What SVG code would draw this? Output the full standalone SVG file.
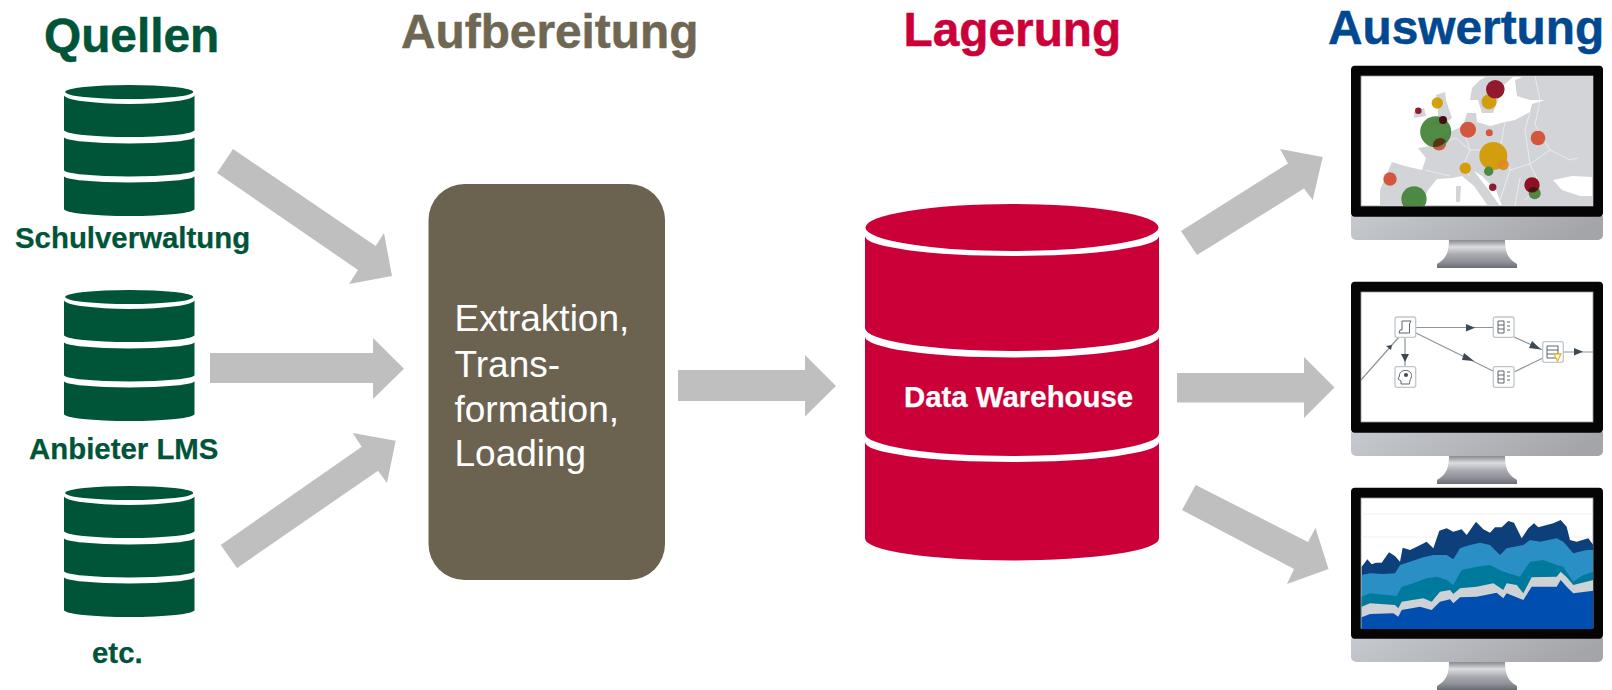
<svg xmlns="http://www.w3.org/2000/svg" width="1612" height="690" viewBox="0 0 1612 690">
<style>
text{font-family:"Liberation Sans",Arial,sans-serif}
.h{font-size:47.8px;font-weight:bold;stroke-width:.5}
.s{font-size:29.4px;font-weight:bold;fill:#005438;stroke:#005438;stroke-width:.25}
.t{font-size:37px;fill:#fff}
.arrow{fill:#bfbfbf}
.fl{stroke:#8e9599;stroke-width:1.2;fill:none}
.ah{fill:#3d4a52}
.nd{fill:#fff;stroke:#c2c6c9;stroke-width:1.3}
.ic{fill:none;stroke:#5d666c;stroke-width:1}
.r{fill:#d4503a}.k{fill:#8f1024}.y{fill:#d29c05}.g{fill:#47863c}
</style>
<defs>
<linearGradient id="chin" x1="0" x2="1" y1="0" y2="0.15"><stop offset="0" stop-color="#c6c9ce"/><stop offset="1" stop-color="#a3a5a9"/></linearGradient>
<linearGradient id="stand" x1="0" x2="0" y1="0" y2="1"><stop offset="0" stop-color="#6f7178"/><stop offset=".3" stop-color="#dcdde0"/><stop offset=".55" stop-color="#a9abb0"/><stop offset=".8" stop-color="#8e9097"/><stop offset="1" stop-color="#6a6c73"/></linearGradient>
<g id="monitor">
<path d="M1449,238 H1505 C1505,252 1507,258 1517,264 V268 H1437 V264 C1447,258 1449,252 1449,238Z" fill="url(#stand)"/>
<path d="M1351,216 H1603 V235 a5,5 0 0 1 -5,5 H1356 a5,5 0 0 1 -5,-5Z" fill="url(#chin)"/>
<rect x="1351" y="65.7" width="252" height="151" rx="4" fill="#050505"/>
<rect x="1361" y="76" width="232" height="130" fill="#fff" stroke="#9a9a9a" stroke-width=".8"/>
</g>
<g id="smallcyl" fill="#005438">
<ellipse cx="129.2" cy="92" rx="64" ry="7"/>
<path d="M64,95 A65.2,9 0 0 0 194.5,95 V130 A65.2,7 0 0 1 64,130Z"/>
<path d="M64,137 A65.2,6.5 0 0 0 194.5,137 V170 A65.2,6.5 0 0 1 64,170Z"/>
<path d="M64,176 A65.2,6.5 0 0 0 194.5,176 V209 A65.2,7 0 0 1 64,209Z"/>
</g>
<clipPath id="sc1"><rect x="1361" y="76" width="232" height="130"/></clipPath>
<clipPath id="sc2"><rect x="1361" y="292" width="232" height="130"/></clipPath>
<clipPath id="sc3"><rect x="1361" y="498" width="232" height="131"/></clipPath>
<filter id="soft" x="-5%" y="-5%" width="110%" height="110%"><feGaussianBlur stdDeviation=".4"/></filter>
</defs>
<rect width="1612" height="690" fill="#fff"/>

<text class="h" x="44" y="52" fill="#005438" stroke="#005438">Quellen</text>
<text class="h" x="401" y="48" fill="#6f6753" stroke="#6f6753">Aufbereitung</text>
<text class="h" x="903.5" y="46" fill="#cc0039" stroke="#cc0039">Lagerung</text>
<text class="h" x="1328" y="44" fill="#004990" stroke="#004990">Auswertung</text>

<g id="source-schulverwaltung"><use href="#smallcyl"/><text class="s" x="15" y="248">Schulverwaltung</text></g>
<g id="source-anbieter-lms"><use href="#smallcyl" y="205"/><text class="s" x="29" y="459">Anbieter LMS</text></g>
<g id="source-etc"><use href="#smallcyl" y="401"/><text class="s" x="92" y="662.5">etc.</text></g>

<g id="etl">
<rect x="428.5" y="184" width="236.5" height="396" rx="36" fill="#6b6350"/>
<text class="t" x="454.5" y="331">Extraktion,</text>
<text class="t" x="454.5" y="377">Trans-</text>
<text class="t" x="454.5" y="422">formation,</text>
<text class="t" x="454.5" y="466">Loading</text>
</g>

<g id="data-warehouse" fill="#cc0039">
<ellipse cx="1012" cy="227.5" rx="146.5" ry="23.5"/>
<path d="M865,236 A147,20 0 0 0 1159,236 V328 A147,23 0 0 1 865,328Z"/>
<path d="M865,336.5 A147,21 0 0 0 1159,336.5 V433.5 A147,22.5 0 0 1 865,433.5Z"/>
<path d="M865,442 A147,20 0 0 0 1159,442 V538.5 A147,22 0 0 1 865,538.5Z"/>
<text x="904" y="406.5" font-size="29.4" font-weight="bold" style="fill:#fff;stroke:#fff;stroke-width:.25">Data Warehouse</text>
</g>

<g id="connectors" class="arrow">
<polygon points="233,149 217,173 358,270 349,284 392,276 384,233 375.7,246"/>
<polygon points="210,353 373,353 373,338 404,368.7 373,399 373,383 210,383"/>
<polygon points="220.7,545 237,568 378,470.7 387,483 395.7,440.7 352.7,433 361.7,446.7"/>
<polygon points="678,370 805,370 805,355 836,386 805,416.5 805,401 678,401"/>
<polygon points="1181,231 1197,255 1304,188.5 1312.7,200 1322.7,157 1280,149 1288,163.5"/>
<polygon points="1177,373 1304,373 1304,357 1334.5,387.5 1304,418 1304,402.5 1177,402.5"/>
<polygon points="1195.7,485 1182,510 1294,569 1287,584 1328.5,569 1315.5,528 1308,542"/>
</g>

<g id="monitor-map">
<use href="#monitor"/>
<g clip-path="url(#sc1)">
<g filter="url(#soft)">
<path fill="#d2d4d7" d="M1380,206 L1380,190 L1392,162 L1405,166 L1422,170 L1426,158 L1418,148 L1431,146 L1437,138 L1452,131 L1463,126 L1467,113 L1476,113 L1477,122 L1490,126 L1505,122 L1515,120 L1530,112 L1532,104 L1545,100 L1530,100 L1517,96 L1515,80 L1525,76 L1593,76 V177 L1572,176 L1553,180 L1562,190 L1580,196 L1593,196 V206 H1502 L1496,190 L1482,176 L1474,171 L1490,192 L1500,206 H1488 L1474,186 L1462,176 L1452,178 L1437,179 L1428,190 L1420,206Z"/>
<path fill="#d2d4d7" d="M1470,100 L1472,88 L1480,80 L1488,76 H1514 L1503,86 L1498,100 L1493,113 L1482,113 L1478,100Z"/>
<path fill="#d2d4d7" d="M1438,106 L1436,95 L1445,92 L1446,100 L1452,118 L1444,124 L1430,126 L1438,116Z M1414,112 L1424,108 L1426,116 L1414,118Z M1456,186 L1461,186 L1460,202 L1456,202Z"/>
<path d="M1430,146 L1456,138 L1470,150 L1462,168 L1470,176 M1462,126 L1470,150 L1500,150 L1510,170 L1530,164 L1550,150 L1570,160 L1578,158 M1500,150 L1505,122 M1530,164 L1525,130 L1530,112 M1510,170 L1500,200 M1530,164 L1540,185 L1525,200 M1425,170 L1450,176 M1550,150 L1535,125 L1540,100 L1535,76 M1520,178 L1515,206" fill="none" stroke="#fff" stroke-width=".7" opacity=".75"/>
</g>
<g opacity=".95">
<circle class="y" cx="1489" cy="101.7" r="7.5"/>
<circle class="k" cx="1495.3" cy="89.3" r="9.3"/>
<circle class="y" cx="1437.3" cy="103" r="5.7"/>
<circle class="k" cx="1418.3" cy="110.7" r="3.3"/>
<circle class="r" cx="1439" cy="143.3" r="7.2"/>
<circle class="g" cx="1435.7" cy="131.7" r="15.5"/>
<circle class="r" cx="1468" cy="129.7" r="8"/>
<circle class="r" cx="1489.3" cy="132.7" r="3.5"/>
<circle class="r" cx="1538" cy="138" r="7.3"/>
<circle class="y" cx="1493.3" cy="156" r="14"/>
<circle class="y" cx="1465.3" cy="168.3" r="5.7"/>
<circle class="g" cx="1488.7" cy="171.3" r="4.7"/>
<circle class="k" cx="1492.7" cy="187.3" r="3.7"/>
<circle class="g" cx="1534.7" cy="193.3" r="6"/>
<circle class="r" cx="1390" cy="179" r="6.7"/>
<circle class="g" cx="1414" cy="199" r="12.7"/>
</g>
<circle cx="1443" cy="120" r="4" fill="#4a0a10"/>
<path d="M1433,145.5 A7.2,7.2 0 0 1 1446,141 A15.5,15.5 0 0 1 1433,147Z" fill="#5b3214"/>
<circle cx="1503.3" cy="164.7" r="5.5" fill="#dc8a1c" opacity=".9"/>
<circle class="k" cx="1532" cy="185" r="7.7"/>
<path d="M1528,191 A7.7,7.7 0 0 0 1538,189 A6,6 0 0 0 1528,191Z" fill="#3d1a10"/>
</g>
</g>

<g id="monitor-flow">
<use href="#monitor" y="216"/>
<g clip-path="url(#sc2)" filter="url(#soft)">
<path class="fl" d="M1361,380 L1399,337 M1405,337 V367 M1416,327.5 H1493 M1416,333 L1493,371 M1514,337 L1543,350 M1514,372 L1543,358 M1563,352 H1593"/>
<path class="ah" d="M1392,345 L1386,346 L1391,350Z M1401,354 H1409 L1405,362Z M1466,324 L1475,327.7 L1466,331.5Z M1464,353 L1474,361 L1462,360Z M1532,341 L1541,349.5 L1529,348Z M1574,348 L1583,351.7 L1574,355.5Z"/>
<rect class="nd" x="1395" y="317" width="20.7" height="20.3" rx="2"/>
<rect class="nd" x="1395" y="366.7" width="20.7" height="20.6" rx="2"/>
<rect class="nd" x="1493.3" y="317" width="20.7" height="20.3" rx="2"/>
<rect class="nd" x="1493.3" y="366.7" width="20.7" height="20.6" rx="2"/>
<rect class="nd" x="1542.7" y="341.7" width="20.6" height="20.6" rx="2"/>
<path class="ic" d="M1402,321 H1411 L1409.5,324 V333 H1399 L1400,330 H1402Z M1401,384 V381 L1398,379 L1399.5,376 C1399,372 1403,370 1406.5,370.5 C1411,371 1412.5,375 1411,378 C1410,380 1409.5,382 1409.5,384Z M1498,321 H1504 V333 H1498Z M1498,325 H1504 M1498,329 H1504 M1507,322 H1510 M1507,326 H1510 M1507,330 H1510 M1498,371 H1504 V383 H1498Z M1498,375 H1504 M1498,379 H1504 M1507,372 H1510 M1507,376 H1510 M1507,380 H1510 M1547,346 H1558 V358 H1547Z M1547,350 H1558 M1547,354 H1558"/>
<circle cx="1406" cy="375" r="2" fill="#3d4a52"/>
<path d="M1554,354 H1561 L1557.5,361Z" fill="#fff" stroke="#e8b72c" stroke-width="1.3"/>
</g>
</g>

<g id="monitor-chart">
<use href="#monitor" y="422"/>
<g clip-path="url(#sc3)">
<path d="M1361,514 H1593 M1361,537 H1593" stroke="#eeeeee" stroke-width=".8"/>
<g transform="translate(1290,470) scale(.33333)" filter="url(#soft)">
<path fill="#0f3f7a" d="M215,290 L232,268 245,283 258,278 275,278 297,247 315,258 330,275 338,233 360,240 385,228 410,215 430,235 448,182 470,175 490,185 515,178 530,195 558,155 580,178 600,188 615,172 635,172 655,153 672,158 695,205 715,175 732,160 745,172 770,165 790,160 812,150 830,170 840,210 860,215 895,205 910,225 V477 H215Z"/>
<path fill="#2a8fc4" d="M215,315 L240,310 280,312 315,310 330,285 360,275 400,262 430,255 470,255 490,268 510,235 540,225 570,218 600,225 630,255 650,235 700,225 720,210 750,215 800,205 820,215 850,250 890,240 910,240 V477 H215Z"/>
<path fill="#007a9c" d="M215,380 L240,370 320,378 335,350 370,340 410,325 440,320 470,330 490,345 515,300 560,290 600,285 640,305 690,320 720,275 760,270 800,285 820,290 850,335 880,315 910,305 V477 H215Z"/>
<path fill="#cfd2d4" d="M215,410 L240,400 315,405 325,415 335,395 400,385 425,395 450,365 480,360 490,372 510,355 560,350 610,340 640,360 650,340 680,345 700,370 725,322 800,320 812,305 830,322 850,345 910,330 V477 H215Z"/>
<path fill="#0050b0" d="M215,442 L240,432 310,430 325,440 335,420 390,410 425,420 450,395 480,388 490,400 510,382 560,380 620,368 640,385 650,370 700,390 725,350 800,350 812,330 830,350 850,370 910,362 V477 H215Z"/>
</g>
</g>
</g>
</svg>
